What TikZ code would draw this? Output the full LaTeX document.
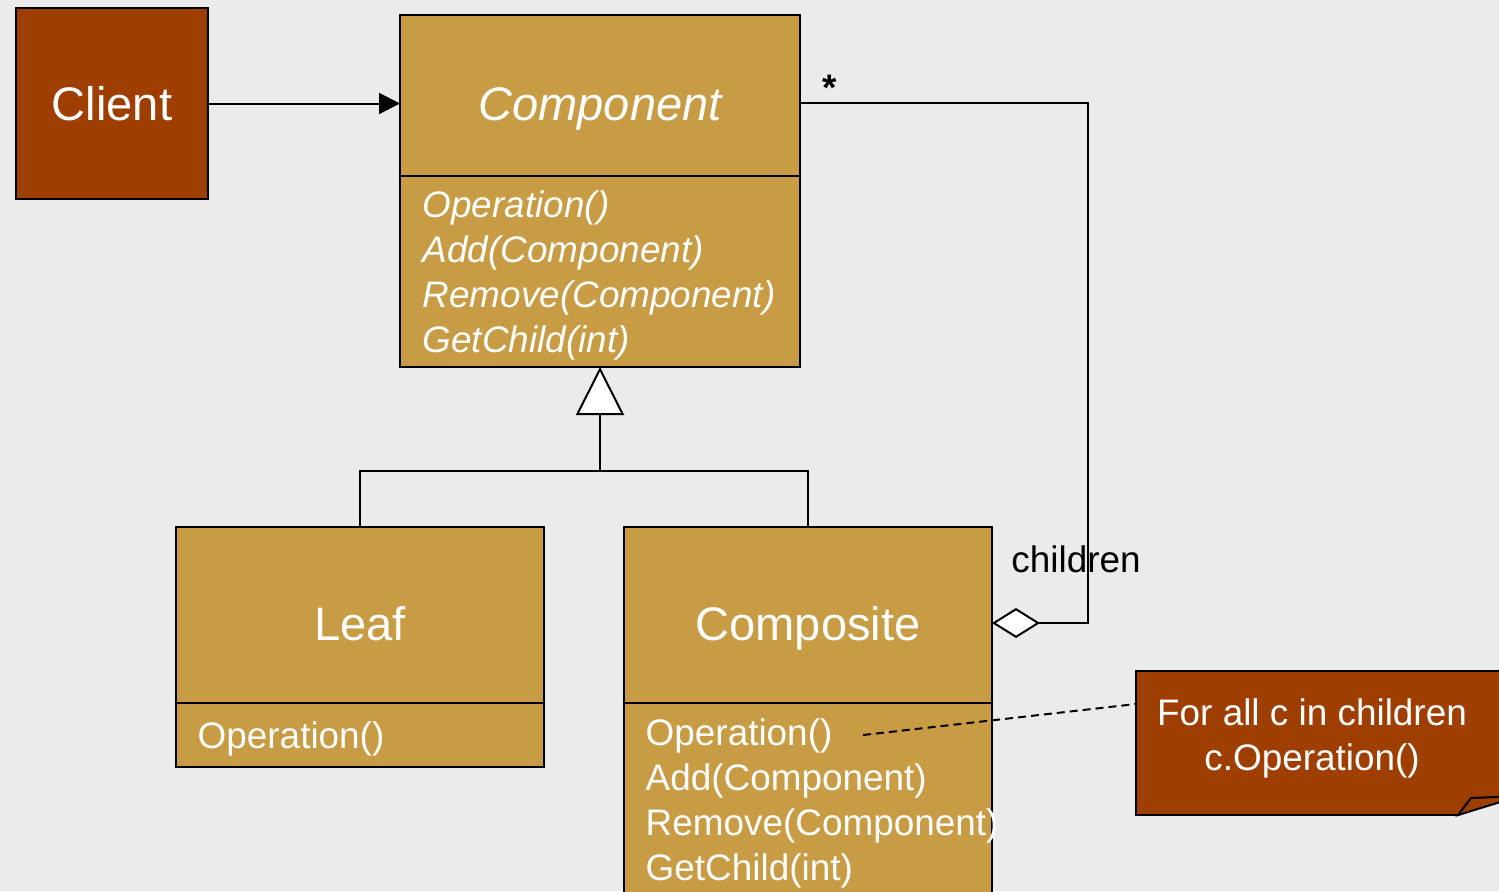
\documentclass[tikz,border=0pt]{standalone}
\usepackage{fontspec}
\setmainfont{Liberation Sans}
\usepackage{tikz}
\usetikzlibrary{calc}
\usetikzlibrary{arrows.meta}

\definecolor{bgcolor}{RGB}{235,235,235}
\definecolor{rustfill}{RGB}{158,62,0}
\definecolor{classfill}{RGB}{200,155,69}

\tikzset{
  classbox/.style={draw=black, fill=classfill, line width=0.02cm, inner sep=0pt, outer sep=0pt, text=white},
  titletext/.style={font=\fontsize{13.4}{16}\selectfont, text height=0.50cm, text depth=0cm},
  opstext/.style={text=white, font=\fontsize{10.5}{12.8}\selectfont, align=left, anchor=north west, inner sep=0pt},
  rustbox/.style={draw=black, fill=rustfill, line width=0.02cm, inner sep=0pt, outer sep=0pt, text=white},
  umlline/.style={line width=0.02cm},
}

\begin{document}
\begin{tikzpicture}
                        \useasboundingbox (0,0) rectangle (14.99,8.91);
                        \fill [bgcolor] (0,0) rectangle (14.99,8.91);%
                        \clip (0,0) rectangle (14.99,8.91);

                        % Drawing class Client
                        \node [rustbox, minimum width=1.92cm, minimum height=1.91cm, font=\fontsize{13.4}{16}\selectfont] (client) at (1.12,7.875) {Client};%

                        % Drawing class Component
                        \node [classbox, titletext, minimum width=4.00cm, minimum height=1.61cm] (comp) at (6.00,7.955) {\itshape Component};%
                        \node [classbox, minimum width=4.00cm, minimum height=1.91cm, anchor=north] (compops) at (comp.south) {};%
                        \node [opstext, font=\fontsize{10.5}{12.8}\selectfont\itshape] (compopslist) at (4.22,7.01) {Operation()\\Add(Component)\\Remove(Component)\\GetChild(int)};%

                        % Drawing class Leaf
                        \node [classbox, titletext, minimum width=3.68cm, minimum height=1.76cm] (leaf) at (3.60,2.76) {Leaf};%
                        \node [classbox, minimum width=3.68cm, minimum height=0.64cm, anchor=north] (leafops) at (leaf.south) {};%
                        \node [opstext] (leafopslist) at (1.97,1.70) {Operation()};%

                        % Drawing class Composite
                        \node [classbox, titletext, minimum width=3.68cm, minimum height=1.76cm] (composite) at (8.08,2.76) {Composite\hspace{0.14cm}};%
                        \node [classbox, minimum width=3.68cm, minimum height=2.40cm, anchor=north] (compositeops) at (composite.south) {};%
                        \node [opstext] (compositeopslist) at (6.45,1.73) {Operation()\\Add(Component)\\Remove(Component)\\GetChild(int)};%

                        % Drawing association Client -> Component
                        \draw [umlline, -{Triangle[length=0.21cm, width=0.21cm]}] (client.east) -- (client.east -| comp.west);%

                        % Drawing generalization
                        \coordinate (joint) at (6.00,4.20);
                        \draw [umlline] (leaf.north) |- (joint) -| (composite.north);%
                        \draw [umlline, -{Triangle[length=0.48cm, width=0.48cm, fill=white]}] (joint) -- (compops.south);%

                        % Drawing aggregation children
                        \draw [umlline, {Diamond[length=0.48cm, width=0.30cm, fill=white]}-] ([yshift=-0.08cm]composite.east) -- ++(0.96,0) |- ([yshift=-0.075cm]comp.east);%
                        \node [font=\fontsize{10.5}{12.8}\selectfont\bfseries] (mult) at (8.30,8.03) {*};%
                        \node [font=\fontsize{10.5}{12.8}\selectfont] (rolename) at (10.76,3.32) {children};%

                        % Drawing note
                        \node [rustbox, anchor=north west, minimum width=4.20cm, minimum height=1.44cm] (note) at (11.36,2.20) {};%
                        \fill [bgcolor] (14.58,0.75) -- (15.20,0.75) -- (15.20,0.98) -- cycle;%
                        \draw [umlline] (14.58,0.76) -- (15.20,0.98);%
                        \draw [umlline, fill=rustfill] (14.58,0.76) -- (14.71,0.93) -- (15.20,0.95) -- cycle;%
                        \node [text=white, font=\fontsize{10.5}{12.8}\selectfont, align=center] (notetext) at (13.12,1.53) {For all c in children\\c.Operation()};%

                        % Marking note link
                        \coordinate (opshook) at (8.63,1.56);
                        \draw [umlline, dash pattern=on 0.08cm off 0.05cm] (opshook) -- ([yshift=-0.33cm]note.north west);%
\end{tikzpicture}
\end{document}
